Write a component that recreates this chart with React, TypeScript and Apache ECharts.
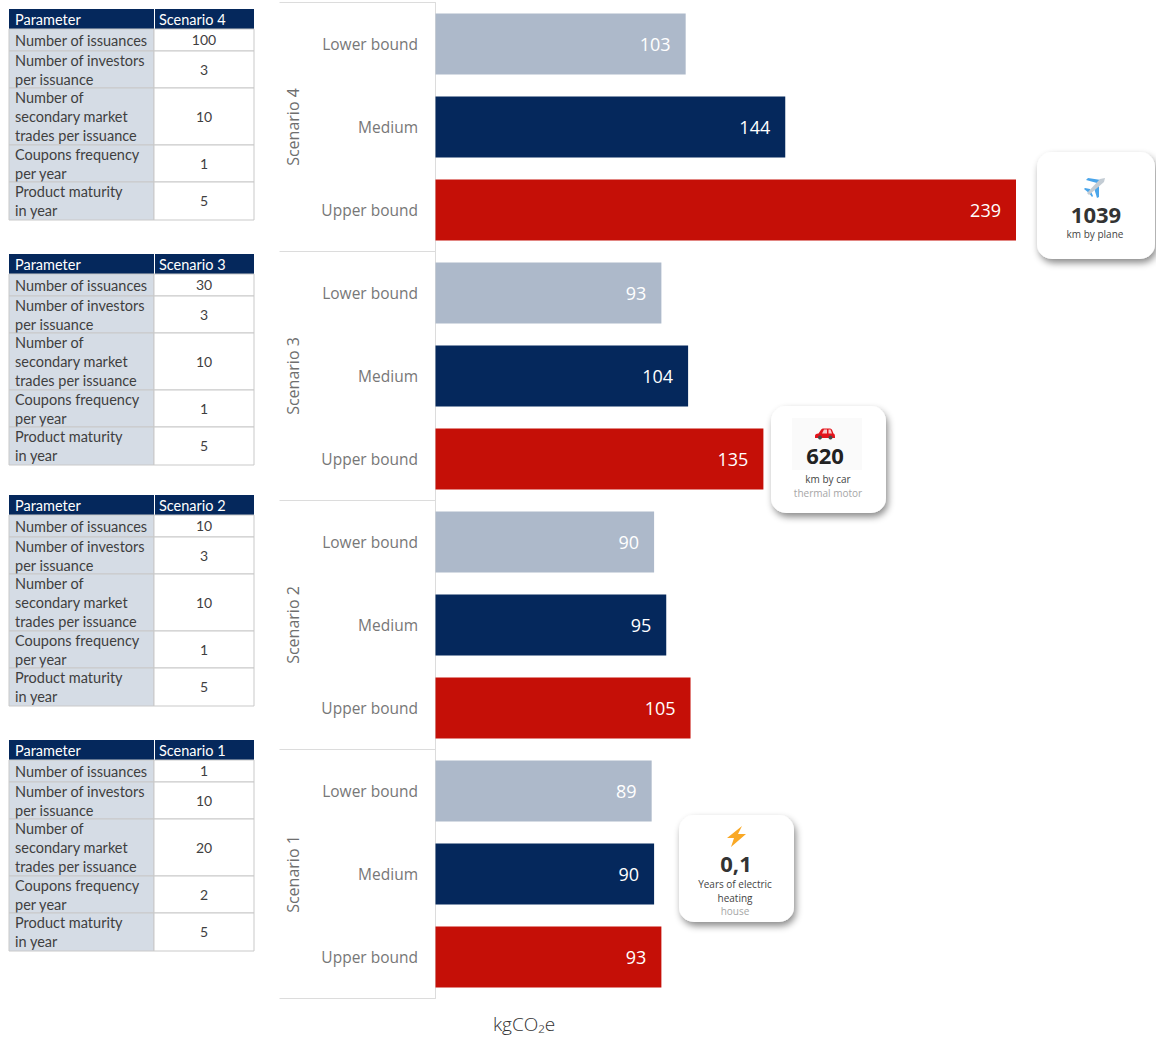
import React, { useEffect, useRef } from "react";
import * as echarts from "echarts";

// Emissions per scenario and bound, kgCO2e
const boundLabels = ["Lower bound", "Medium", "Upper bound"];
const scenarioNames = ["Scenario 4", "Scenario 3", "Scenario 2", "Scenario 1"];
const scenario4Values = [103, 144, 239];
const scenario3Values = [93, 104, 135];
const scenario2Values = [90, 95, 105];
const scenario1Values = [89, 90, 93];
const boundColors = ["#adb9ca", "#05285c", "#c50f07"];

// Assumption tables
const parameterRows = [
  ["Number of issuances"],
  ["Number of investors", "per issuance"],
  ["Number of", "secondary market", "trades per issuance"],
  ["Coupons frequency", "per year"],
  ["Product maturity", "in year"],
];
const scenario4Params = ["100", "3", "10", "1", "5"];
const scenario3Params = ["30", "3", "10", "1", "5"];
const scenario2Params = ["10", "3", "10", "1", "5"];
const scenario1Params = ["1", "10", "20", "2", "5"];

const UI_FONT = "'Open Sans', sans-serif";
const TABLE_FONT = "Lato, sans-serif";

const CAR_PATH =
  "M0 9 C0 7 1 6.5 3.5 6 L6 2 C6.5 1 7.5 0.5 9 0.5 L14 0.5 C15.5 0.5 16.5 1 17 2 L18.5 6 C20 6.5 20 8 20 11 L0 11 Z";
echarts.graphic.registerShape("carBody", echarts.graphic.extendPath(CAR_PATH, {}));

function buildTable(top: number, scenario: string, values: string[]) {
  const left = 9;
  const split = 154;
  const right = 254;
  const border = "#c9c9c9";
  const ink = "#3f3f3f";
  const rowHeights = [22, 37, 57, 37, 38];
  const els: any[] = [
    { type: "rect", shape: { x: left, y: top, width: split - left, height: 20 }, style: { fill: "#05285c" } },
    { type: "rect", shape: { x: split + 1, y: top, width: right - split - 1, height: 20 }, style: { fill: "#05285c" } },
    { type: "text", style: { text: "Parameter", x: left + 6, y: top + 10, fill: "#ffffff", fontFamily: TABLE_FONT, fontSize: 14.5, textVerticalAlign: "middle" } },
    { type: "text", style: { text: scenario, x: split + 5, y: top + 10, fill: "#ffffff", fontFamily: TABLE_FONT, fontSize: 14.5, textVerticalAlign: "middle" } },
  ];
  let y = top + 20;
  parameterRows.forEach((lines, i) => {
    const h = rowHeights[i];
    els.push(
      { type: "rect", shape: { x: left, y, width: split - left, height: h }, style: { fill: "#d5dce5", stroke: border, lineWidth: 1 } },
      { type: "rect", shape: { x: split, y, width: right - split, height: h }, style: { fill: "#ffffff", stroke: border, lineWidth: 1 } },
      { type: "text", style: { text: values[i], x: (split + right) / 2, y: y + h / 2 - 0.5, fill: ink, fontFamily: TABLE_FONT, fontSize: 14, textAlign: "center", textVerticalAlign: "middle" } },
    );
    lines.forEach((line, j) => {
      const lineY = y + h / 2 + (j - (lines.length - 1) / 2) * 19;
      els.push({ type: "text", style: { text: line, x: left + 6, y: lineY, fill: ink, fontFamily: TABLE_FONT, fontSize: 14.5, textVerticalAlign: "middle" } });
    });
    y += h;
  });
  return { type: "group", children: els };
}

function card(x: number, y: number, w: number, h: number) {
  return {
    type: "rect",
    shape: { x, y, width: w, height: h, r: 15 },
    style: { fill: "#ffffff", shadowBlur: 7, shadowOffsetX: 2, shadowOffsetY: 4, shadowColor: "rgba(0,0,0,0.45)" },
  };
}

function cardText(text: string, x: number, y: number, size: number, fill: string, weight: number | string = 400) {
  return { type: "text", style: { text, x, y, fill, fontFamily: UI_FONT, fontSize: size, fontWeight: weight, textAlign: "center", textVerticalAlign: "middle" } };
}

function cardElements() {
  return [
    // Plane
    card(1037, 152, 118, 107),
    { type: "polygon", shape: { points: [[1097, 183], [1086, 180], [1088, 178], [1101, 180]] }, style: { fill: "#4aa5ea" } },
    { type: "polygon", shape: { points: [[1099, 186], [1099, 197], [1097, 198], [1094, 188]] }, style: { fill: "#4aa5ea" } },
    { type: "polygon", shape: { points: [[1090, 189], [1085, 188], [1084, 189], [1089, 193], [1092, 197], [1093, 196]] }, style: { fill: "#4aa5ea" } },
    { type: "polygon", shape: { points: [[1105, 178], [1104, 182], [1089, 195], [1087, 193], [1100, 179]] }, style: { fill: "#c3ccd4" } },
    cardText("1039", 1096, 213.5, 22, "#333333", 700),
    cardText("km by plane", 1095, 234, 10, "#444444"),
    // Car
    card(771, 406, 115, 107),
    { type: "rect", shape: { x: 792, y: 418, width: 70, height: 52 }, style: { fill: "#fafafa" } },
    { type: "carBody", x: 815, y: 428, scaleX: 1, scaleY: 0.9, style: { fill: "#e3141c" } },
    { type: "polygon", shape: { points: [[822, 433.5], [824, 429.5], [827, 429.5], [827, 433.5]] }, style: { fill: "#f7c9cb" } },
    { type: "polygon", shape: { points: [[828.5, 433.5], [828.5, 429.5], [830.5, 429.5], [832, 433.5]] }, style: { fill: "#f7c9cb" } },
    { type: "circle", shape: { cx: 820, cy: 437.5, r: 2 }, style: { fill: "#4a4a4a" } },
    { type: "circle", shape: { cx: 830.5, cy: 437.5, r: 2 }, style: { fill: "#4a4a4a" } },
    cardText("620", 825, 455, 22, "#222222", 700),
    cardText("km by car", 828, 479, 10, "#444444"),
    cardText("thermal motor", 828, 492.5, 10, "#a6a6a6"),
    // Electric heating
    card(679, 815, 115, 107),
    { type: "polygon", shape: { points: [[742, 826], [727, 838], [734, 838], [731, 847], [746, 834], [738, 834]] }, style: { fill: "#f9a825" } },
    cardText("0,1", 736, 863, 22, "#333333", 700),
    cardText("Years of electric", 735, 884, 10, "#444444"),
    cardText("heating", 735, 898, 10, "#444444"),
    cardText("house", 735, 911, 10, "#a6a6a6"),
  ];
}

export default function App() {
  const ref = useRef<HTMLDivElement>(null);

  useEffect(() => {
    const chart = echarts.init(ref.current!, undefined, { renderer: "svg" });
    const allValues = [...scenario4Values, ...scenario3Values, ...scenario2Values, ...scenario1Values];
    const allBounds = [...boundLabels, ...boundLabels, ...boundLabels, ...boundLabels];

    chart.setOption({
      animation: false,
      backgroundColor: "#ffffff",
      grid: { left: 435.5, top: 2.5, width: 580.5, height: 996 },
      xAxis: { type: "value", min: 0, max: 239, show: false },
      yAxis: [
        {
          type: "category",
          inverse: true,
          data: allBounds,
          axisLine: { show: true, lineStyle: { color: "#dcdcdc", width: 1 } },
          axisTick: { show: false },
          axisLabel: { margin: 17.5, color: "#777777", fontFamily: UI_FONT, fontSize: 15.5, interval: 0, padding: [0, 0, 4, 0] },
        },
        {
          type: "category",
          inverse: true,
          position: "left",
          data: scenarioNames,
          axisLine: { show: false },
          axisTick: { show: true, length: 156, lineStyle: { color: "#dcdcdc", width: 1 } },
          axisLabel: { rotate: 90, margin: 134.5, color: "#6f6f6f", fontFamily: UI_FONT, fontSize: 16 },
        },
      ],
      series: [
        {
          type: "bar",
          yAxisIndex: 0,
          barWidth: 61,
          data: allValues.map((v, i) => ({ value: v, itemStyle: { color: boundColors[i % 3] } })),
          label: {
            show: true,
            position: "insideRight",
            distance: 15,
            color: "#ffffff",
            fontFamily: UI_FONT,
            fontSize: 18,
          },
        },
      ],
      graphic: {
        elements: [
          buildTable(9, scenarioNames[0], scenario4Params),
          buildTable(254, scenarioNames[1], scenario3Params),
          buildTable(495, scenarioNames[2], scenario2Params),
          buildTable(740, scenarioNames[3], scenario1Params),
          ...cardElements(),
          { type: "text", style: { text: "kgCO₂e", x: 524, y: 1024, fill: "#333333", fontFamily: UI_FONT, fontSize: 19, fontWeight: 300, textAlign: "center", textVerticalAlign: "middle" } },
        ],
      },
    });
    return () => chart.dispose();
  }, []);

  return <div ref={ref} style={{ position: "absolute", left: 0, top: 0, width: 1156, height: 1039 }} />;
}
